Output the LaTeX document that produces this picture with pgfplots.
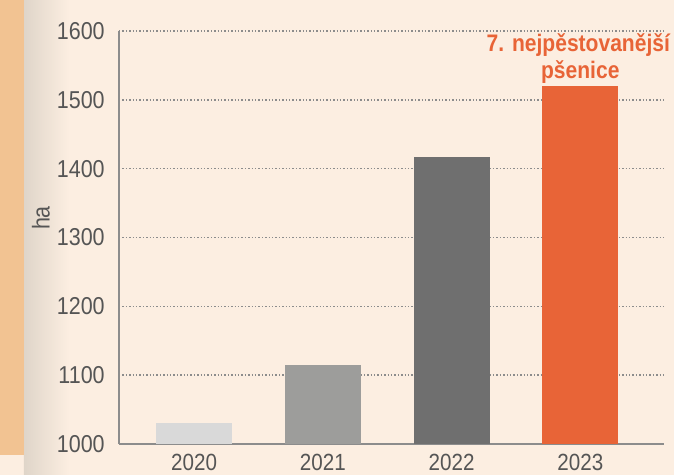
\documentclass[border=0pt]{standalone}
\usepackage{pgfplots}
\pgfplotsset{compat=1.18}
\usepackage{fontspec}
\setmainfont[FakeStretch=0.88]{Liberation Sans}
\definecolor{bgcream}{HTML}{FCEEE1}
\definecolor{strip}{HTML}{F2C392}
\definecolor{shade}{HTML}{DFD5C9}
\definecolor{axisgray}{HTML}{8C8C8C}
\definecolor{tickgray}{HTML}{555555}
\definecolor{bar20}{HTML}{D9D9D9}
\definecolor{bar21}{HTML}{9D9D9B}
\definecolor{bar22}{HTML}{6F6F6F}
\definecolor{bar23}{HTML}{E86437}

\begin{document}
\begin{tikzpicture}
% page background, strip and its shadow (pixel layout: axis corner at x=119, y=444)
\fill[bgcream] (-119bp,-31bp) rectangle (555bp,444bp);
\shade[left color=shade, right color=bgcream] (-95bp,-31bp) rectangle (-50bp,444bp);
\fill[strip] (-119bp,-11bp) rectangle (-95bp,444bp);
\node[rotate=90, text=tickgray, font=\fontsize{24.5}{28}\selectfont] at (-78bp,226bp) {ha};

\begin{axis}[
  at={(0,0)}, anchor=south west,
  scale only axis, width=545bp, height=413bp,
  xmin=-0.583, xmax=3.65, ymin=1000, ymax=1600,
  axis lines=left, axis line style={draw=axisgray, line width=2bp, -},
  xtick={0,1,2,3}, xticklabels={2020,2021,2022,2023},
  ytick={1000,1100,...,1600},
  /pgf/number format/assume math mode=true,
  yticklabel style={/pgf/number format/1000 sep={}},
  tick style={draw=none},
  tick label style={font=\fontsize{24.5}{28}\selectfont, text=tickgray, inner sep=0pt},
  yticklabel style={anchor=east, xshift=-12bp},
  xticklabel style={anchor=north, yshift=-5.5bp, font=\fontsize{23.5}{26}\selectfont},
  ymajorgrids, grid style={draw=axisgray, line width=1.6bp, dash pattern=on 1.5bp off 1.9bp},
  ybar, bar width=76bp, bar shift=0pt,
  clip=false,
]
\addplot[fill=bar20, draw=none] coordinates {(0,1030)};
\addplot[fill=bar21, draw=none] coordinates {(1,1115)};
\addplot[fill=bar22, draw=none] coordinates {(2,1417)};
\addplot[fill=bar23, draw=none] coordinates {(3,1520)};
\node[anchor=base, text=bar23, font=\bfseries\fontsize{24}{28}\selectfont, inner sep=0pt, yshift=8bp] at (axis cs:3,1520) {pšenice};
\node[anchor=base, text=bar23, font=\bfseries\fontsize{24}{28}\selectfont, inner sep=0pt, yshift=35bp, xshift=-2bp] at (axis cs:3,1520) {7. nejpěstovanější};
\end{axis}
\pgfresetboundingbox
\useasboundingbox (-119bp,-31bp) rectangle (555bp,444bp);
\end{tikzpicture}
\end{document}
